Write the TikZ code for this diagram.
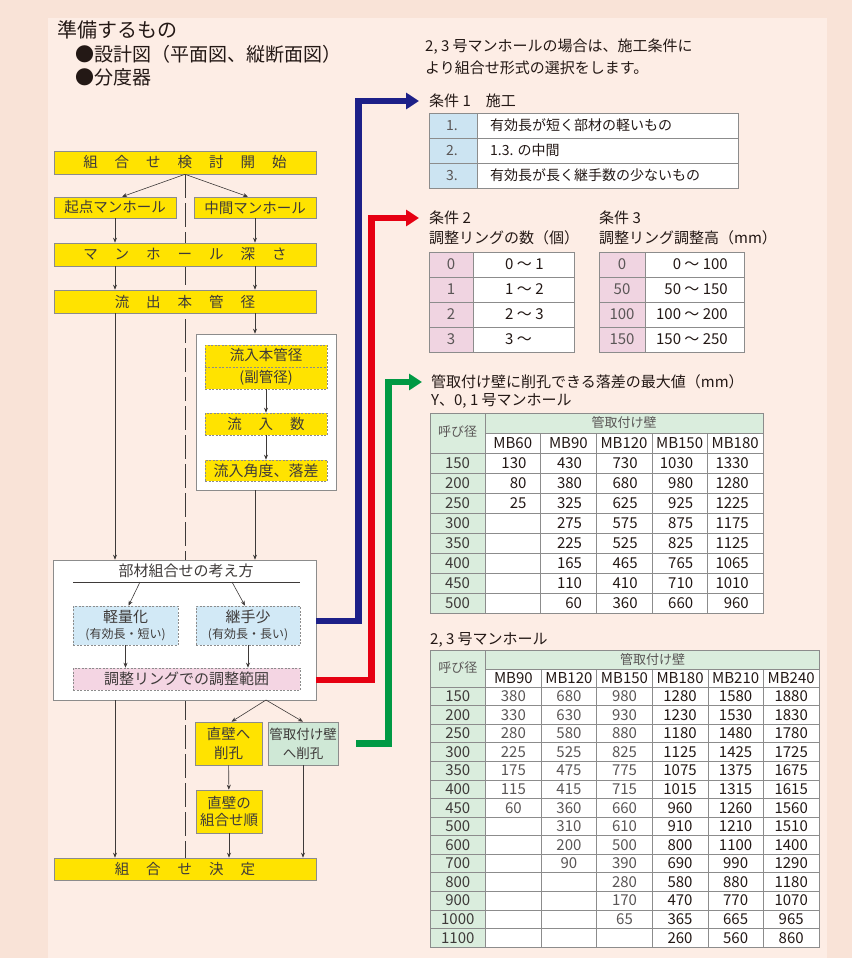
\documentclass[tikz,border=0pt]{standalone}
\usepackage{fontspec}
\setmainfont{Noto Sans CJK JP}
\usepackage{xcolor}
\usetikzlibrary{arrows.meta,backgrounds}
\definecolor{page}{HTML}{F9E3D7}
\definecolor{panel}{HTML}{FDEDE5}
\definecolor{ink}{HTML}{231815}
\definecolor{boxtext}{HTML}{3E3A39}
\definecolor{faded}{HTML}{5A5656}
\definecolor{frame}{HTML}{8C8C8C}
\definecolor{yel}{HTML}{FFE300}
\definecolor{skyp}{HTML}{D2E9F6}
\definecolor{rosep}{HTML}{F4D5E3}
\definecolor{mint}{HTML}{CFE8D6}
\definecolor{tgreen}{HTML}{DAEDDD}
\definecolor{tblue}{HTML}{CCE4F2}
\definecolor{tpink}{HTML}{F0D4E1}
\definecolor{navy}{HTML}{1D2088}
\definecolor{signal}{HTML}{E60012}
\definecolor{leaf}{HTML}{009944}
\newcommand{\jfs}[1]{\fontsize{#1}{#1}\selectfont}
\newcommand{\jgap}{\hspace{17pt}}

\begin{document}
\begin{tikzpicture}[x=1pt,y=-1pt,>=Stealth,
  ybox/.style={draw=frame,line width=0.6pt,fill=yel,text=boxtext,inner sep=0pt,font=\jfs{14.5}},
  dbox/.style={draw=frame,line width=0.6pt,dash pattern=on 2pt off 1.5pt,inner sep=0pt,text=boxtext},
  flowline/.style={boxtext,line width=0.6pt,-{Stealth[length=5pt,width=4pt]}},
  fatarrow/.style={line width=6.5pt,-{Triangle[length=13pt,width=16pt]}},
  tcell/.style={inner sep=0pt,text=ink,font=\jfs{15}},
  txt/.style={anchor=west,inner sep=0pt,text=ink,font=\jfs{15}},
  tline/.style={draw=frame,line width=0.6pt}]
\useasboundingbox (0,0) rectangle (852,958);
% what to prepare
\node[txt,font=\jfs{20}] (need) at (57,30) {準備するもの};
\node[txt,font=\jfs{19}] (needA) at (75,54) {●設計図（平面図、縦断面図）};
\node[txt,font=\jfs{19}] (needB) at (75,77) {●分度器};
% flow: top part
\node[ybox,minimum width=262pt,minimum height=23pt] (start) at (185,162.5) {組\jgap 合\jgap せ\jgap 検\jgap 討\jgap 開\jgap 始};
\node[ybox,minimum width=122pt,minimum height=21pt] (origin) at (115,207.5) {起点マンホール};
\node[ybox,minimum width=122pt,minimum height=21pt] (middle) at (255,207.5) {中間マンホール};
\node[ybox,minimum width=262pt,minimum height=23pt] (depth) at (185,254.5) {マ\jgap ン\jgap ホ\jgap ー\jgap ル\jgap 深\jgap さ};
\node[ybox,minimum width=262pt,minimum height=23pt] (outflow) at (185,301.5) {流\jgap 出\jgap 本\jgap 管\jgap 径};
% flow: inflow group
\node[draw=frame,line width=0.6pt,fill=white,minimum width=140pt,minimum height=156pt] (inflow) at (266,412) {};
\node[ybox,dbox,minimum width=122pt,minimum height=44pt,align=center,font=\fontsize{14.5}{22}\selectfont] (inA) at (266,367) {流入本管径\\(副管径)};
\draw[frame,line width=0.6pt,dash pattern=on 2pt off 1.5pt] (inA.west) -- (inA.east);
\node[ybox,dbox,minimum width=122pt,minimum height=22pt] (inB) at (266,424) {流\jgap 入\jgap 数};
\node[ybox,dbox,minimum width=122pt,minimum height=21pt,font=\jfs{15}] (inC) at (266,470.5) {流入角度、落差};
% flow: how to combine
\node[draw=frame,line width=0.6pt,fill=white,minimum width=263pt,minimum height=140pt] (concept) at (184.5,630) {};
\node[inner sep=0pt,text=boxtext,font=\jfs{15}] (ctitle) at (186,571) {部材組合せの考え方};
\coordinate (ulL) at (73,582); \coordinate (ulR) at (300,582);
\draw[boxtext,line width=0.6pt] (ulL) -- (ulR);
\node[dbox,fill=skyp,minimum width=105pt,minimum height=39pt,align=center,font=\fontsize{15}{16}\selectfont] (light) at (125.5,625.5) {軽量化\\{\jfs{12}(有効長・短い)}};
\node[dbox,fill=skyp,minimum width=104pt,minimum height=39pt,align=center,font=\fontsize{15}{16}\selectfont] (fewjoint) at (248,625.5) {継手少\\{\jfs{12}(有効長・長い)}};
\node[dbox,fill=rosep,minimum width=227pt,minimum height=22pt,font=\jfs{15}] (ring) at (186.5,679) {調整リングでの調整範囲};
% flow: bottom part
\node[ybox,minimum width=67pt,minimum height=43pt,align=center,font=\fontsize{14.5}{19}\selectfont] (drill) at (228.5,743.5) {直壁へ\\削孔};
\node[ybox,fill=mint,minimum width=70pt,minimum height=43pt,align=center,font=\fontsize{13.5}{19}\selectfont] (wall) at (303,743.5) {管取付け壁\\へ削孔};
\node[ybox,minimum width=66pt,minimum height=43pt,align=center,font=\fontsize{14.5}{17}\selectfont] (order) at (229,811.5) {直壁の\\組合せ順};
\node[ybox,minimum width=262pt,minimum height=22pt] (decide) at (185,869) {組\jgap 合\jgap せ\jgap 決\jgap 定};
% connectors
\draw[flowline] (start.south) -- ([xshift=7pt]origin.north);
\draw[flowline] (start.south) -- ([xshift=-7pt]middle.north);
\draw[flowline] (origin.south) -- (origin.south |- depth.north);
\draw[flowline] (middle.south) -- (middle.south |- depth.north);
\draw[flowline] (depth.south -| origin) -- (outflow.north -| origin);
\draw[flowline] (depth.south -| middle) -- (outflow.north -| middle);
\draw[flowline] (outflow.south -| origin) -- (concept.north -| origin);
\draw[flowline] (outflow.south -| middle) -- (inflow.north -| middle);
\draw[flowline] (inflow.south -| middle) -- (concept.north -| middle);
\draw[flowline] (inA) -- (inB);
\draw[flowline] (inB) -- (inC);
\coordinate (uA) at (140,582); \coordinate (uB) at (232,582);
\draw[flowline] (uA) -- ([xshift=3pt]light.north);
\draw[flowline] (uB) -- ([xshift=-3pt]fewjoint.north);
\draw[flowline] (light.south) -- (light.south |- ring.north);
\draw[flowline] (fewjoint.south) -- (fewjoint.south |- ring.north);
\coordinate (fork) at (266,700);
\draw[flowline] (fork) -- ([xshift=3pt]drill.north);
\draw[flowline] (fork) -- (wall.north);
\draw[flowline] (drill) -- (order);
\draw[flowline] (order.south) -- (order.south |- decide.north);
\draw[flowline] (wall.south) -- (wall.south |- decide.north);
\draw[flowline] (concept.south -| origin) -- (decide.north -| origin);
% notes on the right
\node[txt] (note1) at (425,47) {2, 3 号マンホールの場合は、施工条件に};
\node[txt] (note2) at (425,68) {より組合せ形式の選択をします。};
\node[txt] (c1title) at (429,101) {条件 1\quad 施工};
\node[txt] (c2title) at (429,218) {条件 2};
\node[txt] (c2sub) at (429,238) {調整リングの数（個）};
\node[txt] (c3title) at (599,218) {条件 3};
\node[txt] (c3sub) at (599,238) {調整リング調整高（mm）};
\node[txt] (droptitle) at (431,382) {管取付け壁に削孔できる落差の最大値（mm）};
\node[txt] (dropsub) at (431,401) {Y、0, 1 号マンホール};
\node[txt] (bigtitle) at (430,640) {2, 3 号マンホール};
% coloured links
\draw[fatarrow,navy] ([yshift=9pt]concept.east) -- ++(42,0) |- ([xshift=-10pt]c1title.west);
\draw[fatarrow,signal] ([yshift=-50pt]concept.east) -- ++(55,0) |- ([xshift=-10pt]c2title.west);
\draw[fatarrow,leaf,shorten <=18pt] (wall.east) -- ++(50,0) |- ([xshift=-9pt]droptitle.west);
% condition 1
\fill[tblue] (429,113) rectangle (477,188); \fill[white] (477,113) rectangle (738,188);
\foreach \y in {138,163} \draw[tline] (429,\y) -- (738,\y);
\draw[tline] (429,113) rectangle (738,188); \draw[tline] (477,113) -- (477,188);
\foreach \t [count=\i] in {有効長が短く部材の軽いもの,1.3. の中間,有効長が長く継手数の少ないもの} {
  \node[tcell,text=faded,font=\jfs{14}] (kA\i) at (452,{100.5+25*\i}) {\i.};
  \node[tcell,anchor=west,font=\jfs{14}] (kB\i) at (490,{100.5+25*\i}) {\t};
}
% condition 2
\fill[tpink] (429,252) rectangle (473,352); \fill[white] (473,252) rectangle (574,352);
\foreach \y in {277,302,327} \draw[tline] (429,\y) -- (574,\y);
\draw[tline] (429,252) rectangle (574,352); \draw[tline] (473,252) -- (473,352);
\foreach \a/\b [count=\i] in {0/0 ～ 1,1/1 ～ 2,2/2 ～ 3,3/3 ～} {
  \node[tcell,text=faded] (nA\i) at (451,{239.5+25*\i}) {\a};
  \node[tcell,anchor=west] (nB\i) at (505,{239.5+25*\i}) {\b};
}
% condition 3
\fill[tpink] (599,252) rectangle (645,352); \fill[white] (645,252) rectangle (744,352);
\foreach \y in {277,302,327} \draw[tline] (599,\y) -- (744,\y);
\draw[tline] (599,252) rectangle (744,352); \draw[tline] (645,252) -- (645,352);
\foreach \a/\b [count=\i] in {0/0 ～ 100,50/50 ～ 150,100/100 ～ 200,150/150 ～ 250} {
  \node[tcell,text=faded] (hA\i) at (622,{239.5+25*\i}) {\a};
  \node[tcell,anchor=east] (hB\i) at (728,{239.5+25*\i}) {\b};
}
% drop table: Y, 0, 1
\fill[tgreen] (430,413) rectangle (763,433); \fill[tgreen] (430,433) rectangle (485,613); \fill[white] (485,433) rectangle (763,613);
\foreach \y in {453,473,...,593} \draw[tline] (430,\y) -- (763,\y);
\foreach \x in {540.6,596.2,651.8,707.4} \draw[tline] (\x,433) -- (\x,613);
\draw[tline] (485,433) -- (763,433); \draw[tline] (485,413) -- (485,613); \draw[tline] (430,413) rectangle (763,613);
\node[tcell,text=faded,font=\jfs{13}] (dHead) at (457.5,432) {呼び径};
\node[tcell,text=faded,font=\jfs{13}] (dWall) at (624,423) {管取付け壁};
\foreach \m [count=\i] in {MB60,MB90,MB120,MB150,MB180} \node[tcell] (dM\i) at ({485+55.6*(\i-0.5)},443) {\m};
\foreach \r [count=\k] in {{150,130,430,730,1030,1330},{200,80,380,680,980,1280},{250,25,325,625,925,1225},{300,,275,575,875,1175},{350,,225,525,825,1125},{400,,165,465,765,1065},{450,,110,410,710,1010},{500,,60,360,660,960}} {
  \foreach \v [count=\c] in \r {
    \ifnum\c=1 \node[tcell,text=boxtext] (d\k-\c) at (457.5,{443+20*\k}) {\v};
    \else \node[tcell,anchor=east] (d\k-\c) at ({485+55.6*(\c-1)-14},{443+20*\k}) {\v}; \fi
  }
}
% drop table: 2, 3
\fill[tgreen] (430,650) rectangle (819,669); \fill[tgreen] (430,669) rectangle (485.57,947); \fill[white] (485.57,669) rectangle (819,947);
\foreach \k in {0,...,13} \draw[tline] (430,{687+18.57*\k}) -- (819,{687+18.57*\k});
\foreach \k in {2,...,6} \draw[tline] ({430+55.57*\k},669) -- ({430+55.57*\k},947);
\draw[tline] (485.57,669) -- (819,669); \draw[tline] (485.57,650) -- (485.57,947); \draw[tline] (430,650) rectangle (819,947);
\node[tcell,text=faded,font=\jfs{13}] (eHead) at (457.8,668) {呼び径};
\node[tcell,text=faded,font=\jfs{13}] (eWall) at (652.5,659.5) {管取付け壁};
\foreach \m [count=\i] in {MB90,MB120,MB150,MB180,MB210,MB240} \node[tcell] (eM\i) at ({430+55.57*(\i+0.5)},678) {\m};
\foreach \r [count=\k] in {{150,380,680,980,1280,1580,1880},{200,330,630,930,1230,1530,1830},{250,280,580,880,1180,1480,1780},{300,225,525,825,1125,1425,1725},{350,175,475,775,1075,1375,1675},{400,115,415,715,1015,1315,1615},{450,60,360,660,960,1260,1560},{500,,310,610,910,1210,1510},{600,,200,500,800,1100,1400},{700,,90,390,690,990,1290},{800,,,280,580,880,1180},{900,,,170,470,770,1070},{1000,,,65,365,665,965},{1100,,,,260,560,860}} {
  \foreach \v [count=\c] in \r {
    \ifnum\c=1 \def\tc{boxtext}\else\ifnum\c<5 \def\tc{faded}\else\def\tc{ink}\fi\fi
    \node[tcell,text=\tc] (e\k-\c) at ({430+55.57*(\c-0.5)},{687+18.57*(\k-0.5)}) {\v};
  }
}
% backdrop and guide line
\begin{scope}[on background layer]
\fill[page] (0,0) rectangle (852,958);
\fill[panel] (48,18) rectangle (827,958);
\draw[boxtext,line width=0.6pt,dash pattern=on 24pt off 5pt] (start.south) -- (decide.north);
\end{scope}
\end{tikzpicture}
\end{document}
